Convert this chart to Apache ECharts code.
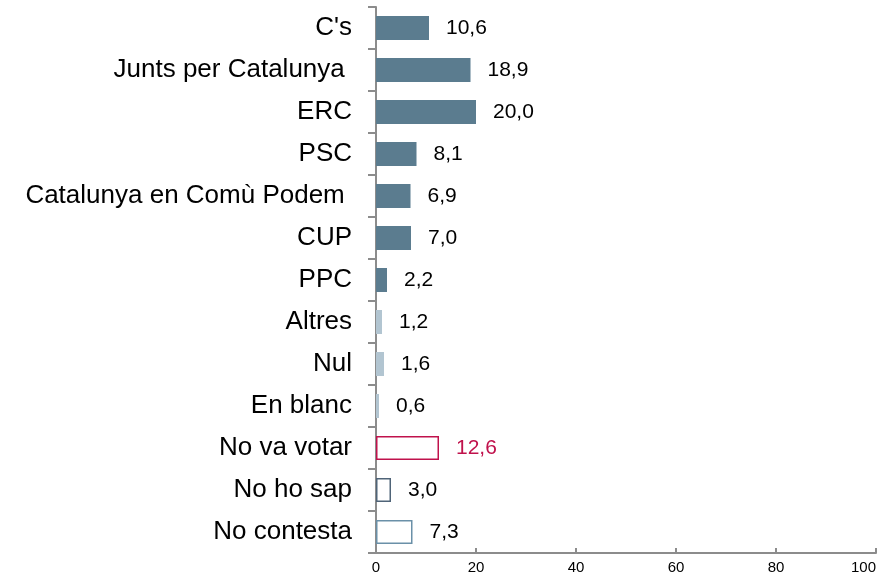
<!DOCTYPE html>
<html>
<head>
<meta charset="utf-8">
<script src="https://cdn.jsdelivr.net/npm/echarts@6/dist/echarts.min.js"></script>
<style>
  html, body { margin: 0; padding: 0; background: #fff; }
  #chart { width: 891px; height: 579px; }
</style>
</head>
<body>
<div id="chart"></div>
<script>
// categories, top to bottom
const categories = ['C\'s', 'Junts per Catalunya ', 'ERC', 'PSC', 'Catalunya en Comù Podem ', 'CUP', 'PPC',
  'Altres', 'Nul', 'En blanc', 'No va votar', 'No ho sap', 'No contesta']
const values = [10.6, 18.9, 20.0, 8.1, 6.9, 7.0, 2.2, 1.2, 1.6, 0.6, 12.6, 3.0, 7.3]
const xTicks = [0, 20, 40, 60, 80, 100]

// look of each bar by category
const partyStyle = { color: '#5b7c8f' }
const minorStyle = { color: '#b2c5d1' }
const specialStyle = {
  'No va votar': { color: '#fff', borderColor: '#c0124c', borderWidth: 1.5, label: '#c0124c' },
  'No ho sap': { color: '#fff', borderColor: '#4f6478', borderWidth: 1.5 },
  'No contesta': { color: '#fff', borderColor: '#6a90a8', borderWidth: 1.5 }
}

const barData = values.map((v, i) => {
  const name = categories[i]
  let st = i < 7 ? partyStyle : minorStyle
  if (specialStyle[name]) st = specialStyle[name]
  return {
    value: v,
    itemStyle: { color: st.color, borderColor: st.borderColor, borderWidth: st.borderWidth || 0 },
    label: { color: st.label || '#000' }
  }
})

const chart = echarts.init(document.getElementById('chart'))
chart.setOption({
  animation: false,
  grid: { left: 376, right: 15, top: 7, bottom: 26, containLabel: false },
  xAxis: {
    type: 'value',
    min: xTicks[0],
    max: xTicks[xTicks.length - 1],
    interval: 20,
    splitLine: { show: false },
    axisLine: { show: true, lineStyle: { color: '#8c8c8c', width: 2 } },
    axisTick: { show: true, inside: true, length: 5, lineStyle: { color: '#8c8c8c', width: 2 } },
    axisLabel: { color: '#000', fontSize: 15, fontFamily: 'Liberation Sans, Arial', margin: 7, alignMaxLabel: 'right' }
  },
  yAxis: {
    type: 'category',
    data: categories,
    inverse: true,
    axisLine: { show: true, lineStyle: { color: '#8c8c8c', width: 2 } },
    axisTick: { show: true, length: 8, lineStyle: { color: '#8c8c8c', width: 2 } },
    axisLabel: { color: '#000', fontSize: 26, fontFamily: 'Liberation Sans, Arial', margin: 24 }
  },
  series: [{
    type: 'bar',
    data: barData,
    barWidth: 24,
    label: {
      show: true,
      position: 'right',
      distance: 17,
      fontSize: 21,
      fontFamily: 'Liberation Sans, Arial',
      formatter: p => p.value.toFixed(1).replace('.', ',')
    }
  }]
})
</script>
</body>
</html>
